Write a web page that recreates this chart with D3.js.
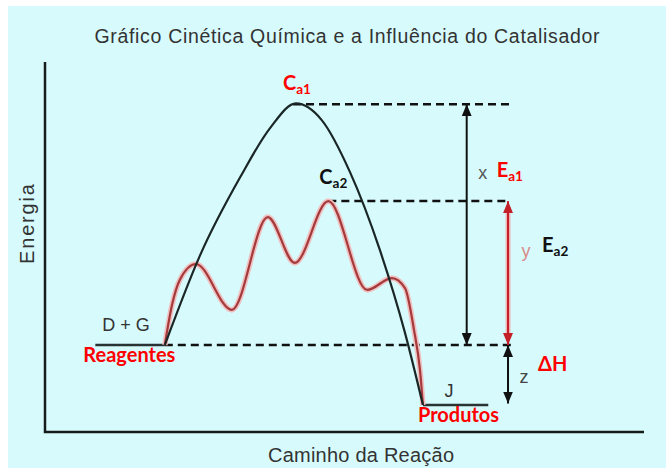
<!DOCTYPE html>
<html>
<head>
<meta charset="utf-8">
<script src="https://d3js.org/d3.v7.min.js"></script>
<style>
  body { margin: 0; background: #fff; }
</style>
</head>
<body>
<div id="my_dataviz"></div>
<script>

// energy levels (arbitrary units, 0-100)
var reagentLevel = 23.5,
    productLevel = 7.3,
    ca1Level = 88.6,
    ca2Level = 62.4;

// reaction path without catalyst (black)
var pathX1 = [20, 25.9, 32.6, 37.6, 41.9, 46.2, 50.9, 55.9, 60.1, 63.1];
var pathY1 = [23.5, 47.8, 68.9, 82.2, 88.8, 84.3, 70.3, 49.2, 26.8, 7.3];

// reaction path with catalyst (red)
var pathX2 = [20, 21.2, 22.5, 25.2, 31.2, 37.2, 41.7, 47.3, 53.8, 57.9, 60.1, 61.6, 62.6, 63.1];
var pathY2 = [23.5, 34.3, 41.1, 45.4, 33.0, 58.1, 45.7, 62.4, 38.4, 41.6, 38.9, 27.6, 16.8, 7.3];

// reaction coordinate anchors
var reagentStart = 8.4, reactionStart = 20, ca1X = 41.4, ca2X = 47.3,
    productX = 63.1, productEnd = 74, dashEnd = 77.6,
    arrowX1 = 70.4, arrowX2 = 77.3;

// set the dimensions of the graph
var W = 671, H = 476;
var svg = d3.select("#my_dataviz")
  .append("svg")
    .attr("width", W)
    .attr("height", H);

svg.append("rect")
  .attr("x", 8).attr("y", 6)
  .attr("width", 658).attr("height", 462)
  .attr("fill", "#d7fbfd");

var x = d3.scaleLinear().domain([0, 100]).range([45, 644]);
var y = d3.scaleLinear().domain([0, 100]).range([432, 62]);

// arrow heads (pointing along the line direction)
var defs = svg.append("defs");
function marker(id, color) {
  defs.append("marker")
    .attr("id", id)
    .attr("viewBox", "0 0 12 10")
    .attr("refX", 12).attr("refY", 5)
    .attr("markerWidth", 12).attr("markerHeight", 10)
    .attr("markerUnits", "userSpaceOnUse")
    .attr("orient", "auto-start-reverse")
    .append("path")
      .attr("d", "M0,0 L12,5 L0,10 Z")
      .attr("fill", color);
}
marker("headBlack", "#111");
marker("headRed", "#c4202a");

// axes (no ticks)
svg.append("path")
  .attr("d", "M" + x(0) + "," + y(100) + "V" + y(0) + "H" + x(100))
  .attr("fill", "none")
  .attr("stroke", "#151a1a")
  .attr("stroke-width", 2.5);

// title and axis labels
var sans = "'Liberation Sans', Arial, sans-serif";
svg.append("text")
  .attr("x", 347).attr("y", 43)
  .attr("text-anchor", "middle")
  .attr("textLength", 505)
  .style("font-family", sans).style("font-size", "19.5px")
  .attr("fill", "#333")
  .text("Gráfico Cinética Química e a Influência do Catalisador");

svg.append("text")
  .attr("transform", "translate(34,224) rotate(-90)")
  .attr("text-anchor", "middle")
  .attr("textLength", 80)
  .style("font-family", sans).style("font-size", "20px")
  .attr("fill", "#333")
  .text("Energia");

svg.append("text")
  .attr("x", 361).attr("y", 462)
  .attr("text-anchor", "middle")
  .attr("textLength", 186)
  .style("font-family", sans).style("font-size", "20px")
  .attr("fill", "#333")
  .text("Caminho da Reação");

// dashed reference levels
var dashes = [
  {x0: ca1X, x1: dashEnd, v: ca1Level},
  {x0: ca2X, x1: dashEnd, v: ca2Level},
  {x0: reactionStart, x1: dashEnd + 0.5, v: reagentLevel}
];
svg.selectAll("myDashes")
  .data(dashes)
  .enter()
  .append("line")
    .attr("x1", function(d) { return x(d.x0) })
    .attr("x2", function(d) { return x(d.x1) })
    .attr("y1", function(d) { return y(d.v) })
    .attr("y2", function(d) { return y(d.v) })
    .attr("stroke", "#111")
    .attr("stroke-width", 2.5)
    .attr("stroke-dasharray", "8,5");

// reagent and product plateaus
svg.append("line")
  .attr("x1", x(reagentStart)).attr("x2", x(reactionStart))
  .attr("y1", y(reagentLevel)).attr("y2", y(reagentLevel))
  .attr("stroke", "#2a3333").attr("stroke-width", 2.5);
svg.append("line")
  .attr("x1", x(productX)).attr("x2", x(productEnd))
  .attr("y1", y(productLevel)).attr("y2", y(productLevel))
  .attr("stroke", "#2a3333").attr("stroke-width", 2.5);

// the two reaction paths
var line1 = d3.line()
  .x(function(d, i) { return x(pathX1[i]) })
  .y(function(d, i) { return y(pathY1[i]) })
  .curve(d3.curveMonotoneX);
var line2 = d3.line()
  .x(function(d, i) { return x(pathX2[i]) })
  .y(function(d, i) { return y(pathY2[i]) })
  .curve(d3.curveMonotoneX);

svg.append("path")
  .attr("d", line2(pathX2))
  .attr("fill", "none")
  .attr("stroke", "#f0c0c0")
  .attr("stroke-width", 5.5);
svg.append("path")
  .attr("d", line2(pathX2))
  .attr("fill", "none")
  .attr("stroke", "#a53a3c")
  .attr("stroke-width", 2.2);

svg.append("path")
  .attr("d", line1(pathX1))
  .attr("fill", "none")
  .attr("stroke", "#1b2626")
  .attr("stroke-width", 2.2);

// energy arrows
function arrow(xv, v0, v1, color, head, halo) {
  if (halo) {
    svg.append("line")
      .attr("x1", x(xv)).attr("x2", x(xv))
      .attr("y1", y(v0) - 12).attr("y2", y(v1) + 12)
      .attr("stroke", halo).attr("stroke-width", 5);
  }
  svg.append("line")
    .attr("x1", x(xv)).attr("x2", x(xv))
    .attr("y1", y(v0)).attr("y2", y(v1))
    .attr("stroke", color).attr("stroke-width", 2)
    .attr("marker-start", "url(#" + head + ")")
    .attr("marker-end", "url(#" + head + ")");
}
arrow(arrowX1, reagentLevel, ca1Level, "#111", "headBlack");
arrow(arrowX2, reagentLevel, ca2Level, "#c4202a", "headRed", "#f0b4b4");
arrow(arrowX2, productLevel + 0.4, reagentLevel, "#111", "headBlack");

// labels
var bold = "Lato, 'Open Sans', sans-serif";
function label(px, py, main, sub, color, size, family, weight, anchor) {
  var t = svg.append("text")
    .attr("x", px).attr("y", py)
    .attr("text-anchor", anchor || "start")
    .style("font-family", family)
    .style("font-size", size + "px")
    .style("font-weight", weight)
    .attr("fill", color)
    .text(main);
  if (sub) {
    t.append("tspan")
      .attr("dy", 4)
      .style("font-size", (size * 0.68) + "px")
      .text(sub);
  }
}
label(x(ca1X) - 10, y(ca1Level) - 14, "C", "a1", "#ff0000", 20, bold, 700);
label(x(ca2X) - 9, y(ca2Level) - 17, "C", "a2", "#111", 20, bold, 700);
label(x(arrowX1) + 16, y(ca1Level) + 75, "x", null, "#555", 18, sans, 400, "middle");
label(x(arrowX1) + 30, y(ca1Level) + 73, "E", "a1", "#ff0000", 20, bold, 700);
label(x(arrowX2) + 18, y(ca2Level) + 56, "y", null, "#d98a8a", 18, sans, 400, "middle");
label(x(arrowX2) + 34, y(ca2Level) + 51, "E", "a2", "#111", 20, bold, 700);
label(x(reagentStart) + 7, y(reagentLevel) - 14, "D + G", null, "#333", 18, sans, 400);
label(x(reagentStart) - 12, y(reagentLevel) + 17, "Reagentes", null, "#ff0000", 20, bold, 700);
label(x(productX) + 26, y(productLevel) - 8, "J", null, "#333", 18, sans, 400, "middle");
label(x(productX) - 5, y(productLevel) + 17, "Produtos", null, "#ff0000", 20, bold, 700);
label(x(arrowX2) + 30, y(reagentLevel) + 26, "ΔH", null, "#ff0000", 20, bold, 700);
label(x(arrowX2) + 16, y(reagentLevel) + 38, "z", null, "#444", 18, sans, 400, "middle");

</script>
</body>
</html>
